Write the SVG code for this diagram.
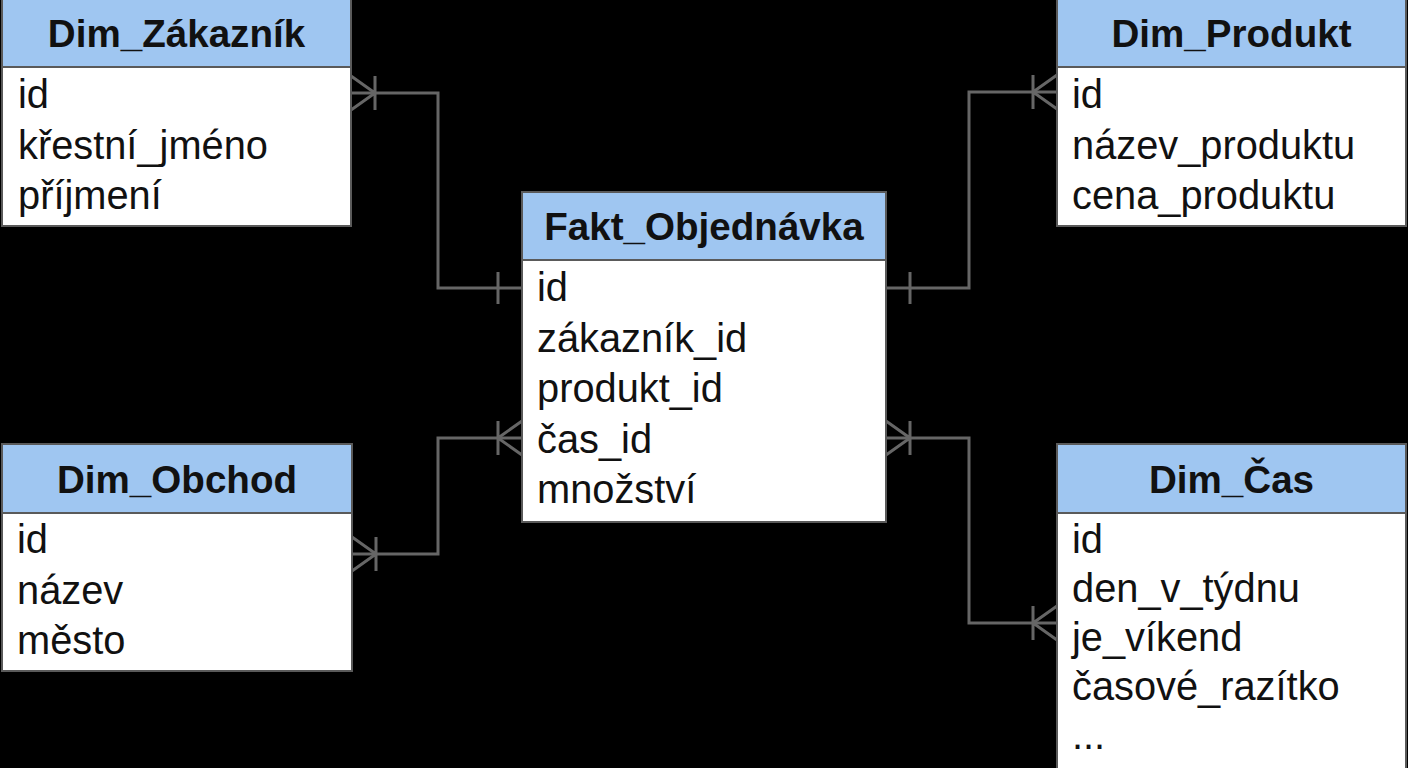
<svg xmlns="http://www.w3.org/2000/svg" width="1408" height="768" viewBox="0 0 1408 768">
  <style>
    .box { fill: #ffffff; stroke: #5a5a5a; stroke-width: 2; }
    .hdr { fill: #9fc6f1; stroke: #5a5a5a; stroke-width: 2; }
    .title { font-family: "Liberation Sans", Arial, sans-serif; font-weight: bold; font-size: 38.6px; fill: #111111; text-anchor: middle; }
    .attr { font-family: "Liberation Sans", Arial, sans-serif; font-size: 39.8px; fill: #111111; }
    .conn { fill: none; stroke: #666666; stroke-width: 3; }
    .mk { fill: none; stroke: #666666; stroke-width: 3; }
  </style>
  <defs>
    <marker id="crow" markerUnits="userSpaceOnUse" markerWidth="40" markerHeight="40" refX="0" refY="0" viewBox="-30 -20 32 40" orient="auto-start-reverse" overflow="visible">
      <path class="mk" d="M0,-17 L-24,0 L0,17 M-24,-17 V17"/>
    </marker>
    <marker id="one" markerUnits="userSpaceOnUse" markerWidth="40" markerHeight="40" refX="0" refY="0" viewBox="-30 -20 32 40" orient="auto-start-reverse" overflow="visible">
      <path class="mk" d="M-24,-16 V16"/>
    </marker>
  </defs>
  <rect x="0" y="0" width="1408" height="768" fill="#000000"/>

  <g id="connectors">
    <path class="conn" d="M351,93 H438 V288 H522" marker-start="url(#crow)" marker-end="url(#one)"/>
    <path class="conn" d="M352,554 H438 V438 H522" marker-start="url(#crow)" marker-end="url(#crow)"/>
    <path class="conn" d="M886,288 H969 V92 H1057" marker-start="url(#one)" marker-end="url(#crow)"/>
    <path class="conn" d="M886,438 H969 V623 H1057" marker-start="url(#crow)" marker-end="url(#crow)"/>
  </g>

  <g id="dim_zakaznik">
    <rect class="box" x="2" y="-1" width="349" height="227"/>
    <rect class="hdr" x="2" y="-1" width="349" height="68"/>
    <text class="title" x="176.5" y="47">Dim_Zákazník</text>
    <text class="attr" x="18" y="108">id</text>
    <text class="attr" x="18" y="158.5">křestní_jméno</text>
    <text class="attr" x="18" y="209">příjmení</text>
  </g>

  <g id="dim_produkt">
    <rect class="box" x="1057" y="-1" width="349" height="227"/>
    <rect class="hdr" x="1057" y="-1" width="349" height="68"/>
    <text class="title" x="1231.5" y="47">Dim_Produkt</text>
    <text class="attr" x="1072" y="108">id</text>
    <text class="attr" x="1072" y="158.5">název_produktu</text>
    <text class="attr" x="1072" y="209">cena_produktu</text>
  </g>

  <g id="fakt_objednavka">
    <rect class="box" x="522" y="192" width="364" height="330"/>
    <rect class="hdr" x="522" y="192" width="364" height="68"/>
    <text class="title" x="704" y="240">Fakt_Objednávka</text>
    <text class="attr" x="537" y="301">id</text>
    <text class="attr" x="537" y="352">zákazník_id</text>
    <text class="attr" x="537" y="402">produkt_id</text>
    <text class="attr" x="537" y="453">čas_id</text>
    <text class="attr" x="537" y="503">množství</text>
  </g>

  <g id="dim_obchod">
    <rect class="box" x="2" y="444" width="350" height="227"/>
    <rect class="hdr" x="2" y="444" width="350" height="69"/>
    <text class="title" x="177" y="493">Dim_Obchod</text>
    <text class="attr" x="17" y="553">id</text>
    <text class="attr" x="17" y="604">název</text>
    <text class="attr" x="17" y="654">město</text>
  </g>

  <g id="dim_cas">
    <rect class="box" x="1057" y="444" width="349" height="330"/>
    <rect class="hdr" x="1057" y="444" width="349" height="69"/>
    <text class="title" x="1231.5" y="493">Dim_Čas</text>
    <text class="attr" x="1072" y="553">id</text>
    <text class="attr" x="1072" y="602">den_v_týdnu</text>
    <text class="attr" x="1072" y="651">je_víkend</text>
    <text class="attr" x="1072" y="700">časové_razítko</text>
    <text class="attr" x="1072" y="749">...</text>
  </g>
</svg>
